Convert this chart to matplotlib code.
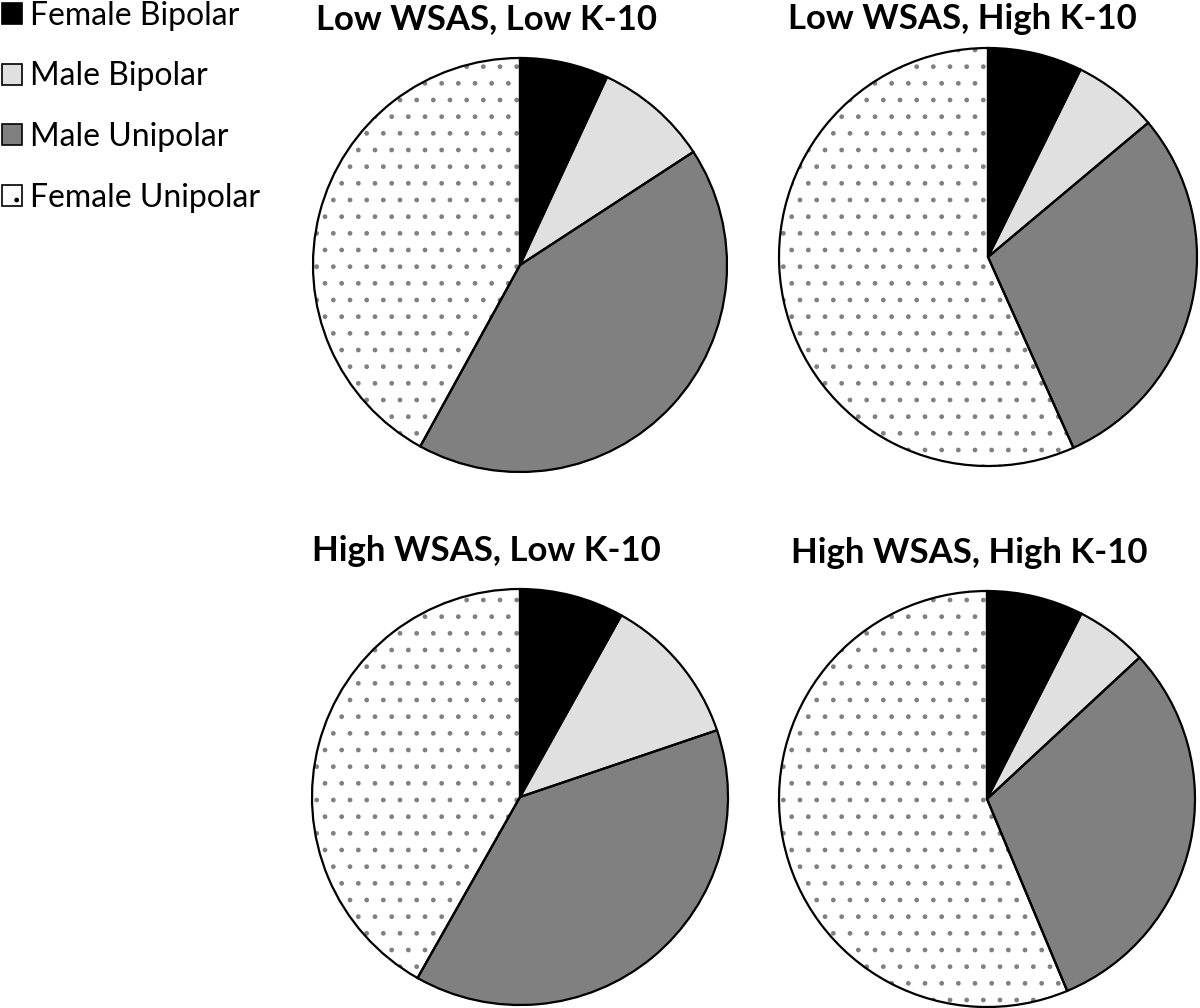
import matplotlib
matplotlib.use("Agg")
import matplotlib.pyplot as plt
from matplotlib.patches import Patch

categories = ["Female Bipolar", "Male Bipolar", "Male Unipolar", "Female Unipolar"]
titles = ["Low WSAS, Low K-10", "Low WSAS, High K-10",
          "High WSAS, Low K-10", "High WSAS, High K-10"]
low_wsas_low_k10 = [6.9, 8.9, 42.2, 42.0]
low_wsas_high_k10 = [7.3, 6.6, 29.4, 56.7]
high_wsas_low_k10 = [8.1, 11.7, 38.4, 41.8]
high_wsas_high_k10 = [7.5, 5.6, 30.6, 56.3]
series = [low_wsas_low_k10, low_wsas_high_k10, high_wsas_low_k10, high_wsas_high_k10]

colors = ["#000000", "#e0e0e0", "#808080", "#ffffff"]
hatches = [None, None, None, "."]

plt.rcParams['font.family'] = ['Lato', 'DejaVu Sans']
plt.rcParams['hatch.linewidth'] = 1.0

W, H = 1200, 1008
fig = plt.figure(figsize=(W / 100, H / 100), dpi=100)

# pie centers / radii in pixels (from top-left)
centers = [(520, 265, 207), (988, 257, 209), (520, 797, 208), (987, 799, 208)]
title_x = [487, 962, 486, 969]
title_y = [19, 19, 551, 553]
lim = 1.03

for vals, title, (cx, cy, r), tx, ty in zip(series, titles, centers, title_x, title_y):
    side = 2 * r * lim
    ax = fig.add_axes([(cx - side / 2) / W, 1 - (cy + side / 2) / H, side / W, side / H])
    wedges, _ = ax.pie(vals, colors=colors, startangle=90, counterclock=False,
                       wedgeprops=dict(linewidth=0))
    for w, h in zip(wedges, hatches):
        if h:
            w.set_hatch(h)
            w.set_edgecolor("#808080")
            w.set_linewidth(0)
    ax.pie(vals, colors=colors, startangle=90, counterclock=False,
           wedgeprops=dict(fill=False, edgecolor="black", linewidth=1.6))
    ax.set_xlim(-lim, lim)
    ax.set_ylim(-lim, lim)
    ax.set_aspect("equal")
    ax.axis("off")
    fig.text(tx / W, 1 - ty / H, title, ha="center", va="center",
             fontsize=25, fontweight="bold")

handles = []
for c, h in zip(colors, hatches):
    p = Patch(facecolor=c, edgecolor="black", linewidth=1.2)
    if h:
        p.set_hatch(h)
    handles.append(p)

fig.legend(handles, categories, loc="upper left", bbox_to_anchor=(-0.009, 1.0117),
           frameon=False, fontsize=23, handlelength=0.62, handleheight=0.62,
           handletextpad=0.25, labelspacing=0.955, borderaxespad=0)

fig.savefig("out.png", dpi=100)
